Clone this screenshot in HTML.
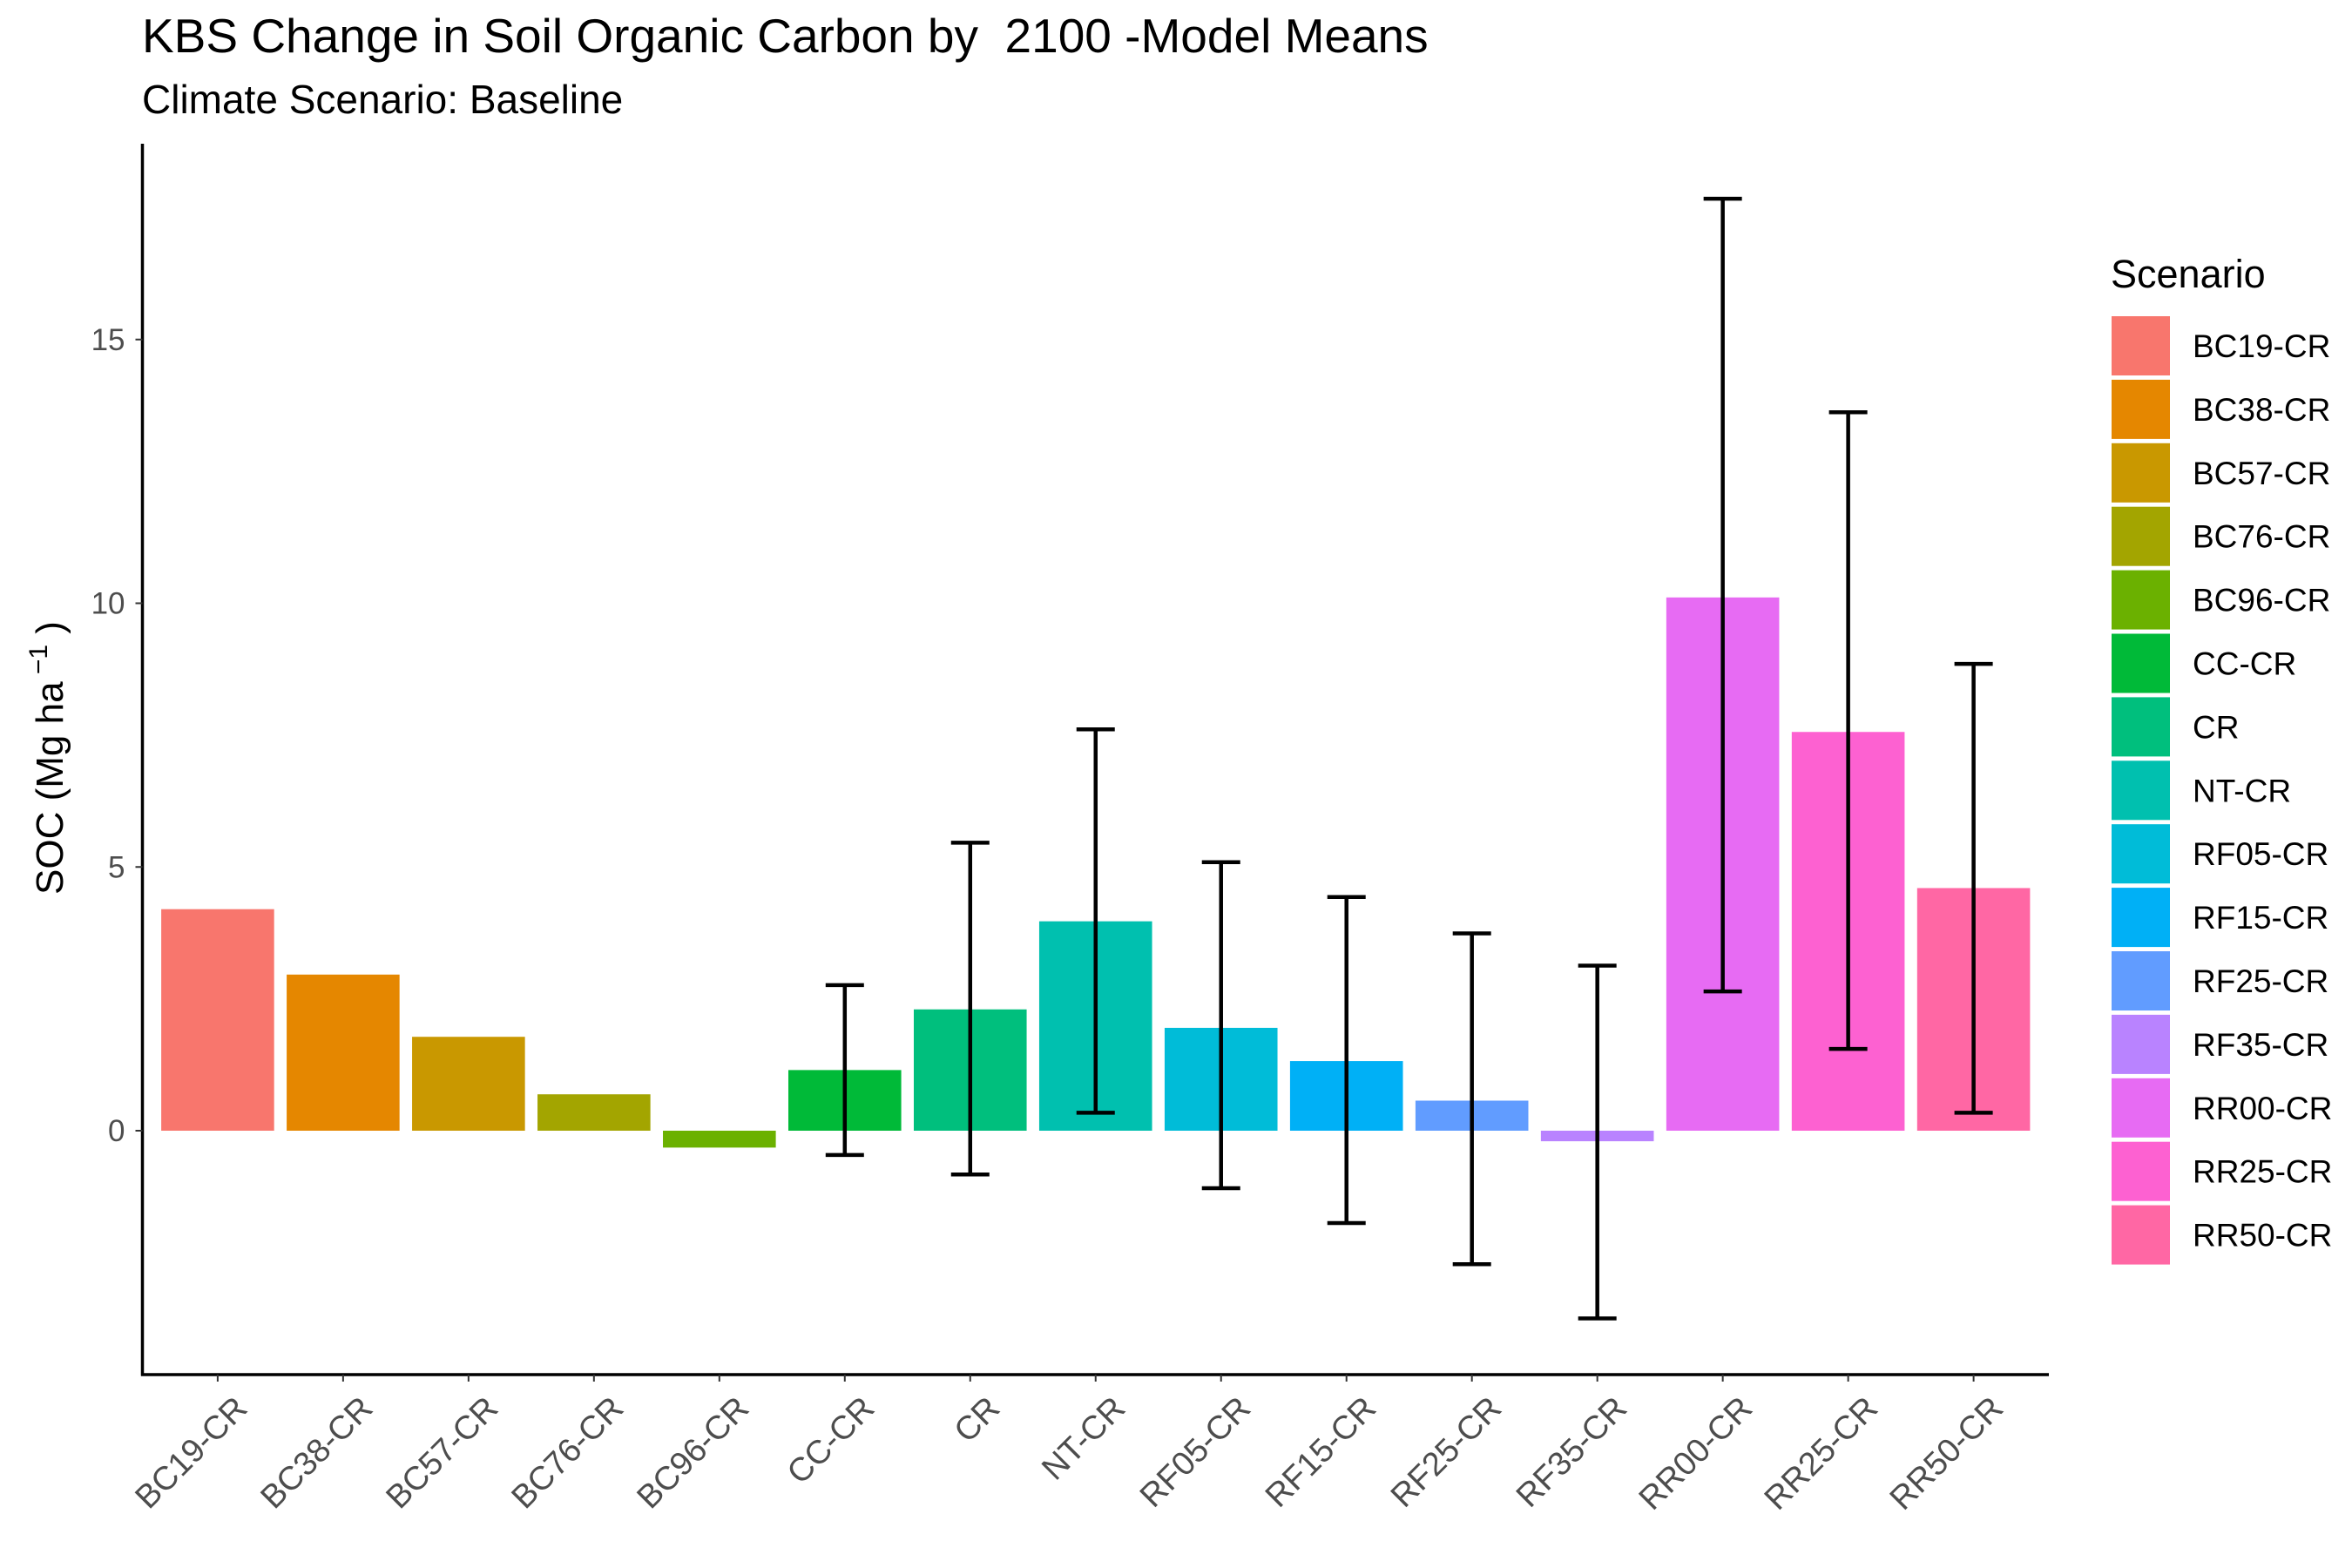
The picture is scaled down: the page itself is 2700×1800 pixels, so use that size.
<!DOCTYPE html>
<html><head><meta charset="utf-8"><style>
html,body{margin:0;padding:0;background:#fff;}
svg{display:block;font-family:"Liberation Sans",Arial,sans-serif;}
</style></head><body>
<svg id="chart" width="2700" height="1800" viewBox="0 0 2700 1800" xmlns="http://www.w3.org/2000/svg">
<rect width="2700" height="1800" fill="#fff"/>
<text x="163" y="60" font-size="55" fill="#000">KBS Change in Soil Organic Carbon by&#160; 2100 -Model Means</text>
<text x="163" y="130" font-size="46" fill="#000">Climate Scenario: Baseline</text>
<g id="plot"></g>
<text transform="translate(72,870) rotate(-90)" text-anchor="middle" font-size="44" fill="#000">SOC (Mg ha<tspan dy="-18" font-size="30">&#160;−1</tspan><tspan dy="18">&#160;)</tspan></text>
<g id="legend"></g>
</svg>
<script>
const categories = ["BC19-CR","BC38-CR","BC57-CR","BC76-CR","BC96-CR","CC-CR","CR","NT-CR","RF05-CR","RF15-CR","RF25-CR","RF35-CR","RR00-CR","RR25-CR","RR50-CR"];
const means = [4.2,2.96,1.78,0.69,-0.32,1.15,2.3,3.97,1.95,1.32,0.57,-0.2,10.11,7.56,4.6];
const errLow = [null,null,null,null,null,-0.46,-0.83,0.34,-1.09,-1.75,-2.53,-3.56,2.64,1.55,0.34];
const errHigh = [null,null,null,null,null,2.76,5.46,7.61,5.09,4.43,3.74,3.13,17.67,13.62,8.85];
const yTicks = [0,5,10,15];
const colors = ["#F8766D","#E58700","#C99800","#A3A500","#6BB100","#00BA38","#00BF7D","#00C0AF","#00BCD8","#00B0F6","#619CFF","#B983FF","#E76BF3","#FD61D1","#FF67A4"];

const NS="http://www.w3.org/2000/svg";
const L=163.5,R=2352,T=165,B=1578;
const y0px=1298, pxPerUnit=60.55;
function y(v){return y0px - v*pxPerUnit;}
const band=(R-L)/(categories.length+0.2);
function x(i){return L + (i+0.6)*band;}
const plot=document.getElementById('plot');
function mk(tag,attrs,parent){const e=document.createElementNS(NS,tag);for(const k in attrs)e.setAttribute(k,attrs[k]);(parent||plot).appendChild(e);return e;}

categories.forEach((c,i)=>{
  const bw=band*0.9;
  const top=Math.min(y(means[i]),y(0)), h=Math.abs(y(means[i])-y(0));
  const r=mk('rect',{x:x(i)-bw/2,y:top,width:bw,height:h,fill:colors[i]});
  
  
});
categories.forEach((c,i)=>{
  if(errLow[i]===null)return;
  const g=mk('g',{stroke:'#000','stroke-width':4.5,fill:'none'});
  
  
  const cx=x(i),hw=22;
  mk('line',{x1:cx,x2:cx,y1:y(errLow[i]),y2:y(errHigh[i])},g);
  mk('line',{x1:cx-hw,x2:cx+hw,y1:y(errLow[i]),y2:y(errLow[i])},g);
  mk('line',{x1:cx-hw,x2:cx+hw,y1:y(errHigh[i]),y2:y(errHigh[i])},g);
});
const ax=mk('line',{x1:L,x2:L,y1:T,y2:B+1.5,stroke:'#000','stroke-width':3.5});


const bx=mk('line',{x1:L-1.5,x2:R,y1:B,y2:B,stroke:'#000','stroke-width':3.5});


yTicks.forEach(v=>{
  const t=mk('line',{x1:L-8,x2:L,y1:y(v),y2:y(v),stroke:'#333','stroke-width':2});
  
  
  const tx=mk('text',{x:L-20,y:y(v)+12,'text-anchor':'end','font-size':35,fill:'#4d4d4d'});
  tx.textContent=v;
  
  
});
categories.forEach((c,i)=>{
  const t=mk('line',{x1:x(i),x2:x(i),y1:B,y2:B+8,stroke:'#333','stroke-width':2});
  
  
  const ax2=x(i)+36, ay=1619;
  const tx=mk('text',{x:ax2,y:ay,'text-anchor':'end','font-size':38,fill:'#4d4d4d',transform:`rotate(-45 ${ax2} ${ay})`});
  tx.textContent=c;
  
  
});
const lg=document.getElementById('legend');
const lt=mk('text',{x:2423,y:330,'font-size':45,fill:'#000'},lg);
lt.textContent='Scenario';


categories.forEach((c,i)=>{
  const cy=397+i*72.9;
  const g=mk('g',{},lg);
  
  
  mk('rect',{x:2424,y:cy-34,width:67,height:68,fill:colors[i]},g);
  const t=mk('text',{x:2517,y:cy+13,'font-size':37,fill:'#000'},g);
  t.textContent=c;
});
</script>
</body></html>
